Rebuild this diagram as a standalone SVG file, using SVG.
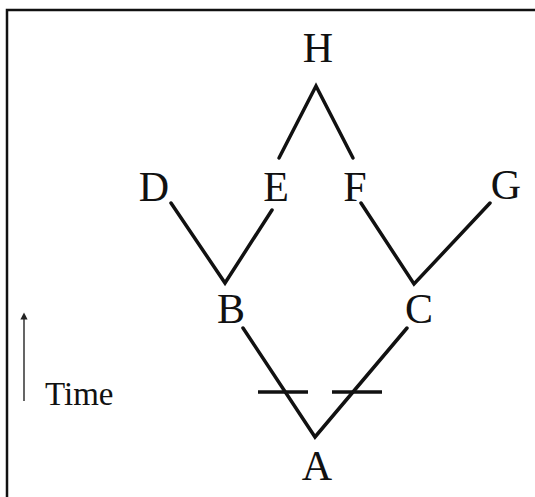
<svg xmlns="http://www.w3.org/2000/svg" width="535" height="497" viewBox="0 0 535 497">
<defs>
<style>
.lbl{font-family:"Liberation Serif","Times New Roman",serif;font-size:42px;fill:#111;text-anchor:middle}
.edge{stroke:#111;stroke-width:3.5;fill:none;stroke-linecap:round}
.bar{stroke:#111;stroke-width:3.5;fill:none}
</style>
<marker id="ah" viewBox="0 0 10 10" refX="5" refY="5" markerWidth="4" markerHeight="4" orient="auto">
<path d="M0,0 L10,5 L0,10 z" fill="#222"/>
</marker>
</defs>
<rect x="0" y="0" width="535" height="497" fill="#fff"/>
<path d="M7,497 V10 H535" stroke="#111" stroke-width="2.5" fill="none"/>
<g id="connectors">
<polyline class="edge" points="279,158 316,86 353,158"/>
<polyline class="edge" points="171,203 225,283 272,210"/>
<polyline class="edge" points="361,203 414,284 490,203"/>
<polyline class="edge" points="243,328 315,437 407,328"/>
<line class="bar" x1="258" y1="392" x2="308" y2="392"/>
<line class="bar" x1="332" y1="392" x2="382" y2="392"/>
</g>
<g id="H"><text class="lbl" x="318" y="62">H</text></g>
<g id="D"><text class="lbl" x="154" y="201">D</text></g>
<g id="E"><text class="lbl" x="276" y="201">E</text></g>
<g id="F"><text class="lbl" x="355" y="201">F</text></g>
<g id="G"><text class="lbl" x="506" y="199">G</text></g>
<g id="B"><text class="lbl" x="231" y="323">B</text></g>
<g id="C"><text class="lbl" x="419" y="323">C</text></g>
<g id="A"><text class="lbl" x="317" y="480">A</text></g>
<g id="time">
<line x1="24" y1="401" x2="24" y2="316" stroke="#555" stroke-width="1.8" marker-end="url(#ah)"/>
<text x="45" y="405" font-family="Liberation Serif,'Times New Roman',serif" font-size="33" fill="#111">Time</text>
</g>
</svg>
